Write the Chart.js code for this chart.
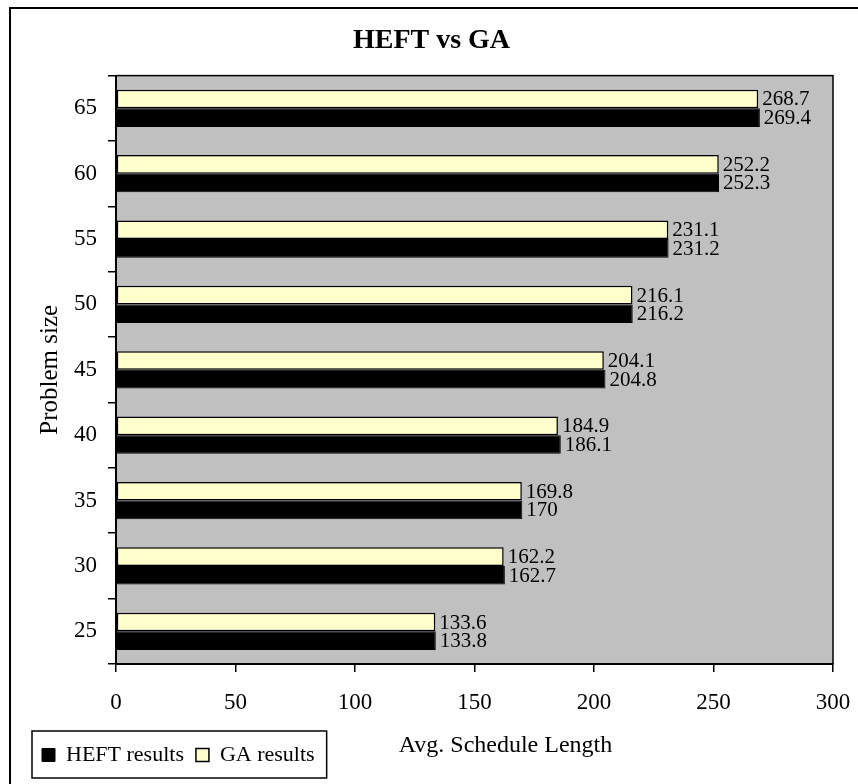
<!DOCTYPE html>
<html>
<head>
<meta charset="utf-8">
<title>HEFT vs GA</title>
<script src="https://cdn.jsdelivr.net/npm/chart.js@4/dist/chart.umd.min.js"></script>
<style>
  html, body { margin: 0; padding: 0; background: #fff; }
  canvas { display: block; }
</style>
</head>
<body>
<canvas id="chart-bar" width="858" height="784"></canvas>
<script>
// problem sizes, top to bottom
var sizes = ["65", "60", "55", "50", "45", "40", "35", "30", "25"];
var heftResults = [269.4, 252.3, 231.2, 216.2, 204.8, 186.1, 170, 162.7, 133.8];
var gaResults = [268.7, 252.2, 231.1, 216.1, 204.1, 184.9, 169.8, 162.2, 133.6];
var xTicks = [0, 50, 100, 150, 200, 250, 300];

var serif = "'Liberation Serif', 'Times New Roman', serif";

// grey plot background + frame round the plot
var plotArea = {
  id: "plotArea",
  beforeDraw: function (chart) {
    var a = chart.chartArea, ctx = chart.ctx;
    ctx.save();
    ctx.fillStyle = "#c0c0c0";
    ctx.fillRect(a.left, a.top, a.right - a.left, a.bottom - a.top);
    ctx.restore();
  },
  afterDatasetsDraw: function (chart) {
    var a = chart.chartArea, ctx = chart.ctx;
    ctx.save();
    ctx.strokeStyle = "#000";
    ctx.lineWidth = 1.5;
    ctx.strokeRect(a.left, a.top, a.right - a.left, a.bottom - a.top);
    ctx.restore();
  },
};

// value printed right of every bar
var barValues = {
  id: "barValues",
  afterDatasetsDraw: function (chart) {
    var ctx = chart.ctx;
    ctx.save();
    ctx.font = "21px " + serif;
    ctx.fillStyle = "#000";
    ctx.textAlign = "left";
    ctx.textBaseline = "middle";
    chart.data.datasets.forEach(function (ds, i) {
      chart.getDatasetMeta(i).data.forEach(function (bar, j) {
        ctx.fillText(String(ds.data[j]), bar.x + 4, bar.y + 1);
      });
    });
    ctx.restore();
  },
};

// x title sits on the legend line, legend gets a box, outer frame
var extras = {
  id: "extras",
  afterDraw: function (chart) {
    var ctx = chart.ctx, a = chart.chartArea, lg = chart.legend;
    ctx.save();
    ctx.fillStyle = "#000";
    ctx.font = "24px " + serif;
    ctx.textAlign = "center";
    ctx.textBaseline = "middle";
    ctx.fillText("Avg. Schedule Length", (a.left + a.right) / 2 + 31, 746);

    var boxes = lg.legendHitBoxes;
    if (boxes && boxes.length) {
      var first = boxes[0], last = boxes[boxes.length - 1];
      ctx.strokeStyle = "#000";
      ctx.lineWidth = 1.5;
      ctx.strokeRect(first.left - 10, first.top - 13,
        last.left + last.width + 12 - (first.left - 10), first.height + 25);
    }

    ctx.lineWidth = 2;
    ctx.beginPath();
    ctx.moveTo(858, 8);
    ctx.lineTo(10, 8);
    ctx.lineTo(10, 784);
    ctx.stroke();
    ctx.restore();
  },
};

var ctx = document.getElementById("chart-bar");
var myBarChart = new Chart(ctx, {
  type: "bar",
  data: {
    labels: sizes,
    datasets: [
      {
        label: "GA results",
        data: gaResults,
        backgroundColor: "#ffffcc",
        borderColor: "#000",
        borderWidth: 1.5,
        borderSkipped: false,
      },
      {
        label: "HEFT results",
        data: heftResults,
        backgroundColor: "#000",
        borderColor: "#000",
        borderWidth: 1,
      },
    ],
  },
  options: {
    indexAxis: "y",
    responsive: false,
    animation: false,
    devicePixelRatio: 1,
    layout: {
      padding: { left: 30, right: 25, top: 8, bottom: 8 },
    },
    datasets: {
      bar: { categoryPercentage: 0.57, barPercentage: 1 },
    },
    scales: {
      x: {
        type: "linear",
        min: 0,
        max: 300,
        afterBuildTicks: function (scale) {
          scale.ticks = xTicks.map(function (v) { return { value: v }; });
        },
        afterFit: function (scale) {
          scale.height = 68;
          // the "300" label may hang past the plot, the page padding covers it
          scale.paddingLeft = 0;
          scale.paddingRight = 0;
        },
        ticks: {
          padding: 17,
          color: "#000",
          font: { family: serif, size: 23 },
        },
        grid: {
          drawOnChartArea: false,
          drawTicks: true,
          tickLength: 8,
          color: "#000",
          lineWidth: 1.5,
        },
        border: { display: true, color: "#000", width: 2 },
      },
      y: {
        afterFit: function (scale) {
          scale.width = 86;
        },
        ticks: {
          padding: 11,
          color: "#000",
          font: { family: serif, size: 23 },
        },
        grid: {
          offset: true,
          drawOnChartArea: false,
          drawTicks: true,
          tickLength: 8,
          color: "#000",
          lineWidth: 1.5,
        },
        border: { display: true, color: "#000", width: 2 },
        title: {
          display: true,
          text: "Problem size",
          color: "#000",
          font: { family: serif, size: 25 },
          padding: { top: 5, bottom: 0 },
        },
      },
    },
    plugins: {
      title: {
        display: true,
        text: "HEFT vs GA",
        color: "#000",
        font: { family: serif, size: 28, weight: "bold" },
        padding: { top: 16, bottom: 18 },
      },
      legend: {
        position: "bottom",
        align: "start",
        reverse: true,
        labels: {
          color: "#000",
          boxWidth: 13,
          boxHeight: 13,
          padding: 12,
          font: { family: serif, size: 22 },
        },
      },
      tooltip: { enabled: false },
    },
  },
  plugins: [plotArea, barValues, extras],
});
</script>
</body>
</html>
